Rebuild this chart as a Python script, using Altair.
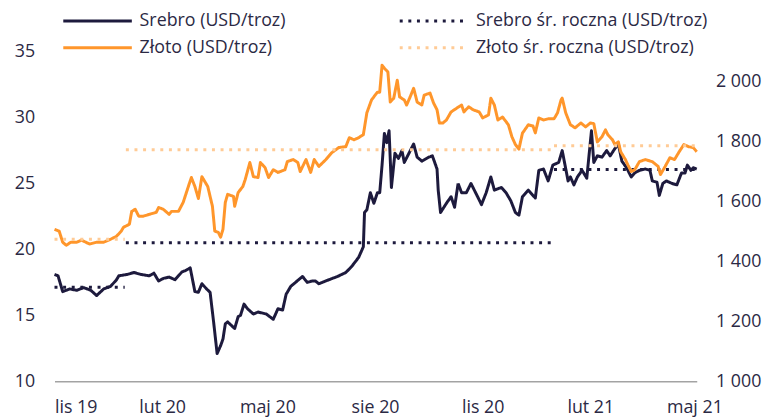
import altair as alt
import pandas as pd

# ---- data ----
silver_dates = [
    "2019-11-01", "2019-11-04", "2019-11-08", "2019-11-14", "2019-11-20", "2019-11-26",
    "2019-12-02", "2019-12-07", "2019-12-13", "2019-12-19", "2019-12-24", "2019-12-26",
    "2020-01-02", "2020-01-08", "2020-01-14", "2020-01-21", "2020-01-25", "2020-01-29",
    "2020-02-02", "2020-02-07", "2020-02-12", "2020-02-18", "2020-02-21", "2020-02-25",
    "2020-02-29", "2020-03-03", "2020-03-06", "2020-03-10", "2020-03-13", "2020-03-16",
    "2020-03-19", "2020-03-22", "2020-03-24", "2020-03-26", "2020-03-28", "2020-04-03",
    "2020-04-06", "2020-04-08", "2020-04-11", "2020-04-14", "2020-04-19", "2020-04-23",
    "2020-04-30", "2020-05-06", "2020-05-10", "2020-05-14", "2020-05-17", "2020-05-21",
    "2020-05-25", "2020-05-31", "2020-06-04", "2020-06-08", "2020-06-11", "2020-06-14",
    "2020-06-24", "2020-06-30", "2020-07-07", "2020-07-12", "2020-07-18", "2020-07-22",
    "2020-07-23", "2020-07-25", "2020-07-28", "2020-07-31", "2020-08-03", "2020-08-05",
    "2020-08-07", "2020-08-09", "2020-08-11", "2020-08-13", "2020-08-15", "2020-08-18",
    "2020-08-21", "2020-08-24", "2020-08-26", "2020-08-30", "2020-09-03", "2020-09-06",
    "2020-09-10", "2020-09-16", "2020-09-19", "2020-09-23", "2020-09-24", "2020-09-26",
    "2020-10-01", "2020-10-05", "2020-10-08", "2020-10-11", "2020-10-14", "2020-10-18",
    "2020-10-22", "2020-10-26", "2020-10-31", "2020-11-04", "2020-11-08", "2020-11-11",
    "2020-11-17", "2020-11-21", "2020-11-25", "2020-11-29", "2020-12-02", "2020-12-05",
    "2020-12-10", "2020-12-16", "2020-12-19", "2020-12-23", "2020-12-27", "2020-12-31",
    "2021-01-05", "2021-01-08", "2021-01-13", "2021-01-15", "2021-01-18", "2021-01-21",
    "2021-01-25", "2021-01-29", "2021-02-02", "2021-02-04", "2021-02-07", "2021-02-11",
    "2021-02-15", "2021-02-18", "2021-02-22", "2021-02-25", "2021-02-28", "2021-03-04",
    "2021-03-08", "2021-03-11", "2021-03-15", "2021-03-20", "2021-03-24", "2021-03-26",
    "2021-03-30", "2021-04-01", "2021-04-04", "2021-04-07", "2021-04-12", "2021-04-16",
    "2021-04-20", "2021-04-23", "2021-04-25", "2021-04-28", "2021-04-30", "2021-05-03",
]
silver_values = [
    18.1, 18.0, 16.8, 17.0, 16.9, 17.1,
    16.9, 16.5, 17.0, 17.2, 17.7, 18.0,
    18.1, 18.25, 18.1, 18.0, 18.2, 17.6,
    17.8, 17.9, 17.7, 18.3, 18.4, 18.6,
    16.8, 16.75, 17.4, 17.0, 16.75, 14.5,
    12.1, 12.7, 13.2, 14.35, 14.5, 14.0,
    14.9, 15.0, 15.85, 15.5, 15.1, 15.25,
    15.1, 14.7, 15.5, 15.4, 16.6, 17.2,
    17.5, 17.95, 17.5, 17.6, 17.6, 17.4,
    17.75, 17.95, 18.25, 18.7, 19.4, 20.2,
    22.8, 23.0, 24.3, 23.5, 24.3, 24.3,
    26.4, 28.8, 28.1, 29.0, 24.7, 27.3,
    26.9, 27.5, 26.6, 27.3, 28.0, 27.0,
    26.7, 27.0, 27.1, 26.1, 24.5, 22.8,
    23.5, 24.0, 23.2, 25.0, 24.3, 24.3,
    25.0, 24.3, 23.4, 24.3, 25.5, 24.5,
    24.7, 24.3, 23.7, 22.8, 22.6, 24.0,
    24.5, 23.9, 26.0, 26.1, 25.2, 26.4,
    26.6, 27.5, 25.2, 25.5, 24.9, 25.5,
    26.0, 25.4, 29.0, 26.6, 27.1, 27.0,
    27.5, 27.1, 27.65, 28.0, 26.7, 26.2,
    25.5, 25.8, 26.0, 26.1, 26.0, 25.2,
    25.1, 24.1, 25.0, 25.2, 25.0, 24.9,
    25.8, 25.8, 26.4, 26.0, 26.2, 26.1,
]

gold_dates = [
    "2019-11-01", "2019-11-05", "2019-11-08", "2019-11-11", "2019-11-15", "2019-11-20",
    "2019-11-24", "2019-12-01", "2019-12-07", "2019-12-13", "2019-12-19", "2019-12-24",
    "2019-12-28", "2019-12-30", "2020-01-04", "2020-01-06", "2020-01-09", "2020-01-12",
    "2020-01-16", "2020-01-21", "2020-01-27", "2020-01-29", "2020-02-02", "2020-02-07",
    "2020-02-09", "2020-02-15", "2020-02-19", "2020-02-24", "2020-02-26", "2020-02-29",
    "2020-03-03", "2020-03-06", "2020-03-09", "2020-03-11", "2020-03-15", "2020-03-17",
    "2020-03-20", "2020-03-22", "2020-03-24", "2020-03-26", "2020-03-28", "2020-04-02",
    "2020-04-03", "2020-04-06", "2020-04-10", "2020-04-12", "2020-04-16", "2020-04-19",
    "2020-04-23", "2020-04-25", "2020-04-29", "2020-05-02", "2020-05-06", "2020-05-10",
    "2020-05-16", "2020-05-18", "2020-05-23", "2020-05-27", "2020-05-29", "2020-06-03",
    "2020-06-07", "2020-06-10", "2020-06-14", "2020-06-20", "2020-06-25", "2020-07-01",
    "2020-07-07", "2020-07-10", "2020-07-14", "2020-07-18", "2020-07-22", "2020-07-25",
    "2020-07-29", "2020-08-03", "2020-08-05", "2020-08-07", "2020-08-09", "2020-08-12",
    "2020-08-14", "2020-08-17", "2020-08-20", "2020-08-22", "2020-08-26", "2020-08-28",
    "2020-08-31", "2020-09-03", "2020-09-06", "2020-09-10", "2020-09-12", "2020-09-17",
    "2020-09-20", "2020-09-23", "2020-09-25", "2020-09-28", "2020-10-01", "2020-10-05",
    "2020-10-10", "2020-10-14", "2020-10-16", "2020-10-20", "2020-10-24", "2020-10-29",
    "2020-11-01", "2020-11-06", "2020-11-08", "2020-11-11", "2020-11-14", "2020-11-18",
    "2020-11-23", "2020-11-26", "2020-11-29", "2020-12-02", "2020-12-05", "2020-12-10",
    "2020-12-14", "2020-12-16", "2020-12-19", "2020-12-23", "2020-12-27", "2021-01-01",
    "2021-01-04", "2021-01-07", "2021-01-08", "2021-01-11", "2021-01-15", "2021-01-19",
    "2021-01-24", "2021-01-28", "2021-02-01", "2021-02-04", "2021-02-07", "2021-02-11",
    "2021-02-14", "2021-02-16", "2021-02-20", "2021-02-22", "2021-02-25", "2021-02-27",
    "2021-03-03", "2021-03-05", "2021-03-08", "2021-03-11", "2021-03-15", "2021-03-20",
    "2021-03-26", "2021-03-31", "2021-04-02", "2021-04-06", "2021-04-10", "2021-04-14",
    "2021-04-18", "2021-04-22", "2021-04-26", "2021-04-30", "2021-05-03",
]
gold_values = [
    1507, 1501, 1464, 1454, 1464, 1464,
    1471, 1458, 1464, 1464, 1474, 1484,
    1501, 1514, 1524, 1567, 1574, 1551,
    1551, 1557, 1564, 1580, 1574, 1557,
    1567, 1567, 1597, 1657, 1680, 1650,
    1610, 1683, 1663, 1650, 1584, 1501,
    1497, 1481, 1507, 1597, 1624, 1617,
    1584, 1630, 1650, 1673, 1730, 1683,
    1680, 1730, 1713, 1680, 1706, 1697,
    1706, 1733, 1740, 1730, 1700, 1740,
    1697, 1740, 1717, 1740, 1763, 1780,
    1783, 1813, 1806, 1813, 1823, 1896,
    1939, 1965, 1965, 2055, 2045, 2032,
    1932, 1945, 2005, 1949, 1939, 1922,
    1949, 1978, 1932, 1922, 1955, 1962,
    1929, 1906, 1862, 1862, 1872, 1899,
    1912, 1922, 1899, 1916, 1906, 1899,
    1879, 1889, 1945, 1922, 1872, 1882,
    1856, 1816, 1790, 1775, 1828, 1856,
    1852, 1829, 1879, 1872, 1876, 1876,
    1896, 1939, 1945, 1896, 1856, 1846,
    1862, 1849, 1862, 1860, 1799, 1816,
    1839, 1823, 1806, 1790, 1799, 1766,
    1740, 1723, 1700, 1706, 1733, 1740,
    1733, 1717, 1690, 1717, 1746, 1740,
    1766, 1790, 1783, 1780, 1766,
]

avg_years = ["2019", "2020", "2021"]
avg_start = ["2019-11-01", "2020-01-01", "2021-01-01"]
avg_end = ["2019-12-31", "2020-12-31", "2021-05-03"]
silver_avg = [17.13, 20.5, 26.07]
gold_avg = [1474, 1773, 1786]

S = "Srebro (USD/troz)"
SA = "Srebro śr. roczna (USD/troz)"
G = "Złoto (USD/troz)"
GA = "Złoto śr. roczna (USD/troz)"
# legend fills column by column: first column = solid lines, second = yearly averages
series_order = [S, G, SA, GA]

NAVY = "#1d1a3d"
ORANGE = "#ff962b"
LIGHT = "#ffcb96"
TEXT = "#2b2944"
FONT = "Open Sans"
FS = 18


def build(dates, values, avgs, name, avg_name):
    rows = [dict(date=d, value=v, series=name, seg=name) for d, v in zip(dates, values)]
    for y, s, e, a in zip(avg_years, avg_start, avg_end, avgs):
        rows.append(dict(date=s, value=a, series=avg_name, seg=avg_name + y))
        rows.append(dict(date=e, value=a, series=avg_name, seg=avg_name + y))
    return pd.DataFrame(rows)


silver_df = build(silver_dates, silver_values, silver_avg, S, SA)
gold_df = build(gold_dates, gold_values, gold_avg, G, GA)

months_pl = "['sty','lut','mar','kwi','maj','cze','lip','sie','wrz','paź','lis','gru']"

x_enc = alt.X(
    "date:T",
    scale=alt.Scale(
        type="utc",
        domain=[alt.DateTime(year=2019, month=11, date=1, utc=True),
                alt.DateTime(year=2021, month=5, date=3, utc=True)],
    ),
    axis=alt.Axis(
        title=None,
        values=[alt.DateTime(year=yy, month=mm, date=1, utc=True)
                for yy, mm in [(2019, 11), (2020, 2), (2020, 5), (2020, 8), (2020, 11), (2021, 2), (2021, 5)]],
        labelExpr=months_pl + "[utcmonth(datum.value)] + ' ' + utcFormat(datum.value, '%y')",
        ticks=False,
        grid=False,
        domainColor="#a3a3a3",
        domainWidth=1.5,
        labelPadding=18,
        labelAngle=0,
    ),
)

legend = alt.Legend(
    title=None,
    orient="none",
    legendX=7,
    legendY=-42,
    columns=2,
    symbolType="stroke",
    symbolSize=4800,
    symbolStrokeWidth=3,
    clipHeight=22,
    rowPadding=5,
    columnPadding=113,
    labelFontSize=FS,
    labelFont=FONT,
    labelColor=TEXT,
    labelLimit=400,
    labelOffset=6,
    padding=0,
)

color_enc = alt.Color("series:N", scale=alt.Scale(domain=series_order, range=[NAVY, ORANGE, NAVY, LIGHT]),
                      legend=legend, sort=series_order)
dash_enc = alt.StrokeDash("series:N", scale=alt.Scale(domain=series_order,
                                                      range=[[1, 0], [1, 0], [3, 5.7], [3, 5.7]]),
                          legend=legend, sort=series_order)

silver_layer = alt.Chart(silver_df).mark_line(strokeWidth=3, strokeJoin="round").encode(
    x=x_enc,
    y=alt.Y("value:Q",
            scale=alt.Scale(domain=[10, 35], nice=False, zero=False),
            axis=alt.Axis(title=None, values=[10, 15, 20, 25, 30, 35], ticks=False, domain=False,
                          grid=False, labelPadding=20)),
    color=color_enc,
    strokeDash=dash_enc,
    detail="seg:N",
)

gold_layer = alt.Chart(gold_df).mark_line(strokeWidth=3, strokeJoin="round").encode(
    x=x_enc,
    y=alt.Y("value:Q",
            scale=alt.Scale(domain=[1000, 2100], nice=False, zero=False),
            axis=alt.Axis(title=None, orient="right", values=[1000, 1200, 1400, 1600, 1800, 2000],
                          labelExpr="replace(format(datum.value, ',d'), ',', ' ')",
                          ticks=False, domain=False, grid=False, labelPadding=19)),
    color=color_enc,
    strokeDash=dash_enc,
    detail="seg:N",
)

chart = alt.layer(silver_layer, gold_layer).resolve_scale(y="independent").properties(
    width=649,
    height=333,
    autosize=alt.AutoSizeParams(type="none"),
    padding={"left": 47, "top": 42, "right": 71, "bottom": 37},
).configure_view(stroke=None).configure_axis(
    labelFont=FONT, labelFontSize=FS, labelColor=TEXT
)

chart.save("out.html", embed_options={"renderer": "svg", "actions": False})
